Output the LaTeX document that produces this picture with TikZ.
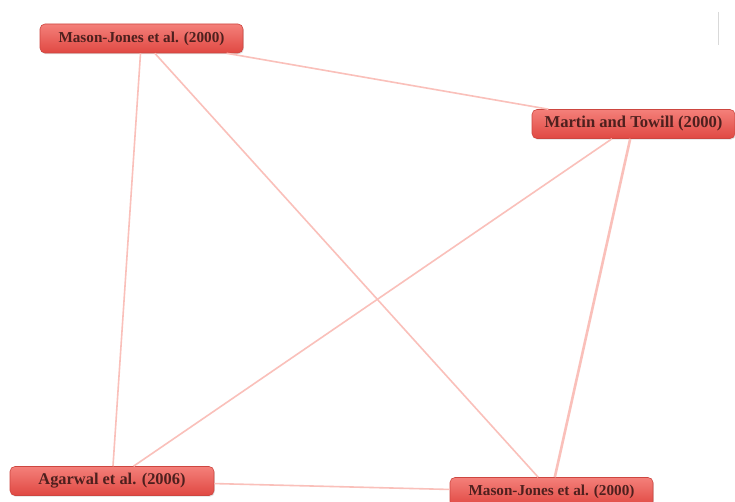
\documentclass[tikz,border=0pt]{standalone}
\usepackage{fontspec}
\setmainfont{Liberation Serif}
\usetikzlibrary{shadows}
\definecolor{linkc}{RGB}{250,192,186}
\definecolor{topc}{RGB}{244,128,122}
\definecolor{botc}{RGB}{224,72,66}
\definecolor{edgec}{RGB}{205,70,64}
\definecolor{txtc}{RGB}{78,32,30}
\tikzset{
  ref/.style={draw=edgec, line width=0.6pt, rounded corners=5pt,
    top color=topc, bottom color=botc, minimum height=29pt,
    text=txtc, font=\bfseries\fontsize{15.2}{17}\selectfont, inner xsep=4pt,
    drop shadow={opacity=0.25, shadow xshift=0.8pt, shadow yshift=-1.2pt}},
  link/.style={draw=linkc, line width=1.6pt},
}
\begin{document}
\begin{tikzpicture}[x=1pt,y=-1pt]
\useasboundingbox (0,0) rectangle (735,502);
\clip (0,0) rectangle (735,502);
\fill[white] (0,0) rectangle (735,502);
\draw[black!15, line width=0.8pt] (718,12) -- (718,45);
\node[ref, minimum width=203pt] (mj1) at (141.5,38.5) {Mason-Jones et al. (2000)};
\node[ref, minimum width=203pt, font=\bfseries\fontsize{16.6}{18}\selectfont] (mt) at (633.5,124) {Martin and Towill (2000)};
\node[ref, minimum width=204pt, font=\bfseries\fontsize{16.4}{18}\selectfont] (ag) at (112,481) {Agarwal et al. (2006)};
\node[ref, minimum width=203pt] (mj2) at (551.5,492) {Mason-Jones et al. (2000)};
\draw[link] (mj1) -- (mt);
\draw[link] (mj1) -- (ag);
\draw[link] (mj1) -- (mj2);
\draw[link] (mt) -- (ag);
\draw[link, line width=2.6pt] (mt) -- (mj2);
\draw[link] (ag) -- (mj2);
\end{tikzpicture}
\end{document}
